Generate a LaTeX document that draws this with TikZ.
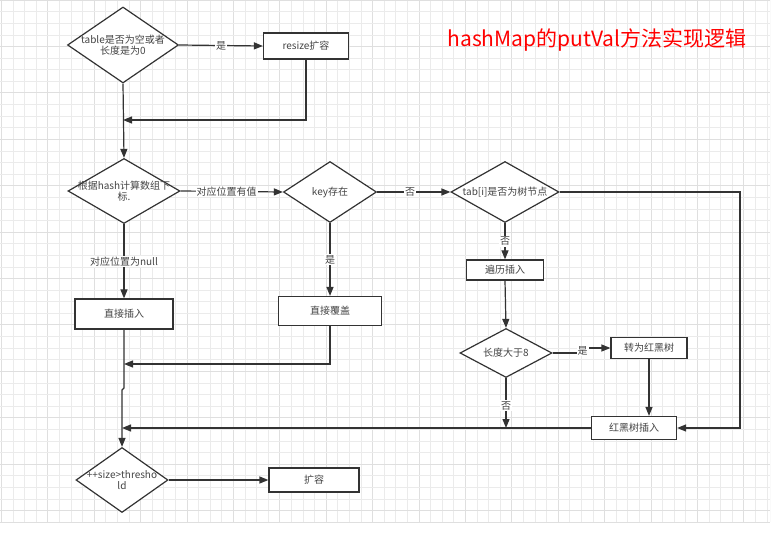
\documentclass[tikz,border=0pt]{standalone}
\usepackage{fontspec}
\setmainfont{Noto Sans CJK SC}
\usetikzlibrary{shapes.geometric,arrows.meta}
\definecolor{gridminor}{HTML}{EBEBEB}
\definecolor{gridmajor}{HTML}{DFDFDF}
\definecolor{ink}{HTML}{333333}
\definecolor{txt}{HTML}{444444}
\begin{document}
\begin{tikzpicture}[x=1pt,y=-1pt,
  every node/.style={font=\fontsize{10}{11.5}\selectfont, text=txt},
  dia/.style={diamond, draw=ink, line width=1.2pt, inner sep=0pt, fill=white},
  box/.style={rectangle, draw=ink, line width=1.2pt, inner sep=0pt, fill=white},
  conn/.style={draw=ink, line width=1.2pt},
  arr/.style={conn, -{Triangle[length=9pt,width=7pt]}},
  lbl/.style={fill=white, inner sep=1pt}]
% canvas
\useasboundingbox (0,0) rectangle (776,534);
\fill[white] (0,0) rectangle (776,534);
% background grid
\begin{scope}
  \clip (0,0) rectangle (770,522);
  \foreach \i in {0,...,66} {
    \pgfmathsetmacro{\gx}{1.4+11.6*\i}
    \pgfmathtruncatemacro{\gm}{mod(\i,4)}
    \ifnum\gm=0
      \draw[gridmajor, line width=0.8pt] (\gx,0) -- (\gx,522);
    \else
      \draw[gridminor, line width=0.7pt] (\gx,0) -- (\gx,522);
    \fi
  }
  \foreach \j in {0,...,45} {
    \pgfmathsetmacro{\gy}{0.1+11.6*\j}
    \pgfmathtruncatemacro{\gm}{mod(\j,4)}
    \ifnum\gm=0
      \draw[gridmajor, line width=0.8pt] (0,\gy) -- (770,\gy);
    \else
      \draw[gridminor, line width=0.7pt] (0,\gy) -- (770,\gy);
    \fi
  }
  \draw[gridmajor, line width=0.8pt] (0,522) -- (770,522) (770,0) -- (770,522);
\end{scope}

% title
\node[text=red, font=\fontsize{21}{23}\selectfont] (title) at (597,40) {hashMap的putVal方法实现逻辑};

% decisions and steps
\node[dia, minimum width=111pt, minimum height=76pt] (d1) at (123,45) {};
\node[align=center] (d1t) at (d1.center) {table是否为空或者\\长度是为0};
\node[box, minimum width=85pt, minimum height=26pt] (r1) at (306,46) {resize扩容};

\node[dia, minimum width=112pt, minimum height=65pt] (d2) at (124,191) {};
\node[align=center] (d2t) at (d2.center) {根据hash计算数组下\\标.};
\node[dia, minimum width=93pt, minimum height=61pt] (d3) at (330,192) {key存在};
\node[dia, minimum width=108pt, minimum height=61pt] (d4) at (505,192) {};
\node (d4t) at (d4.center) {tab[i]是否为树节点};

\node[box, minimum width=98pt, minimum height=30pt] (b1) at (124,314) {直接插入};
\node[box, minimum width=103pt, minimum height=29pt] (b2) at (330,311) {直接覆盖};
\node[box, minimum width=77pt, minimum height=20pt] (b3) at (505,270) {遍历插入};

\node[dia, minimum width=92pt, minimum height=49pt] (d5) at (506,353) {};
\node (d5t) at (d5.center) {长度大于8};
\node[box, minimum width=76pt, minimum height=21pt] (b4) at (649,348) {转为红黑树};
\node[box, minimum width=85pt, minimum height=23pt] (b5) at (634,428) {红黑树插入};

\node[dia, minimum width=92pt, minimum height=65pt] (d6) at (122,480) {};
\node[align=center] (d6t) at (d6.center) {++size>thresho\\ld};
\node[box, minimum width=90pt, minimum height=24pt] (b6) at (314,480) {扩容};

% junction points
\coordinate (j1) at (123,120);
\coordinate (j2) at (124,364);
\coordinate (j3) at (122,428);
\coordinate (rt) at (740,192);

% connectors
\draw[arr] (d1.east) -- node[lbl] {是} (r1.west);
\draw[arr] (r1.south) |- (j1);
\draw[arr] (d1.south) -- (d2.north);
\draw[arr] (d2.east) -- node[lbl, pos=0.45] {对应位置有值} (d3.west);
\draw[arr] (d3.east) -- node[lbl, pos=0.45] {否} (d4.west);
\draw[arr] (d2.south) -- node[lbl, pos=0.5] {对应位置为null} (b1.north);
\draw[arr] (d3.south) -- node[lbl, pos=0.5] {是} (b2.north);
\draw[arr] (d4.south) -- node[lbl, pos=0.5] {否} (b3.north);
\draw[arr] (b3.south) -- (d5.north);
\draw[arr] (d5.east) -- ++(30,0) |- node[lbl, pos=0.2] {是} (b4.west);
\draw[arr] (b4.south) -- (b4.south |- b5.north);
\draw[arr] (d4.east) -- (rt) |- (b5.east);
\draw[arr] (d5.south) -- node[lbl, pos=0.55] {否} (d5.south |- b5.west);
\draw[arr] (b5.west) -- (j3);
\draw[arr] (b2.south) |- (j2);
\draw[arr] (b1.south) -- (124,388) -- (122,390) -- (d6.north);
\draw[arr] (d6.east) -- (b6.west);
\end{tikzpicture}
\end{document}
